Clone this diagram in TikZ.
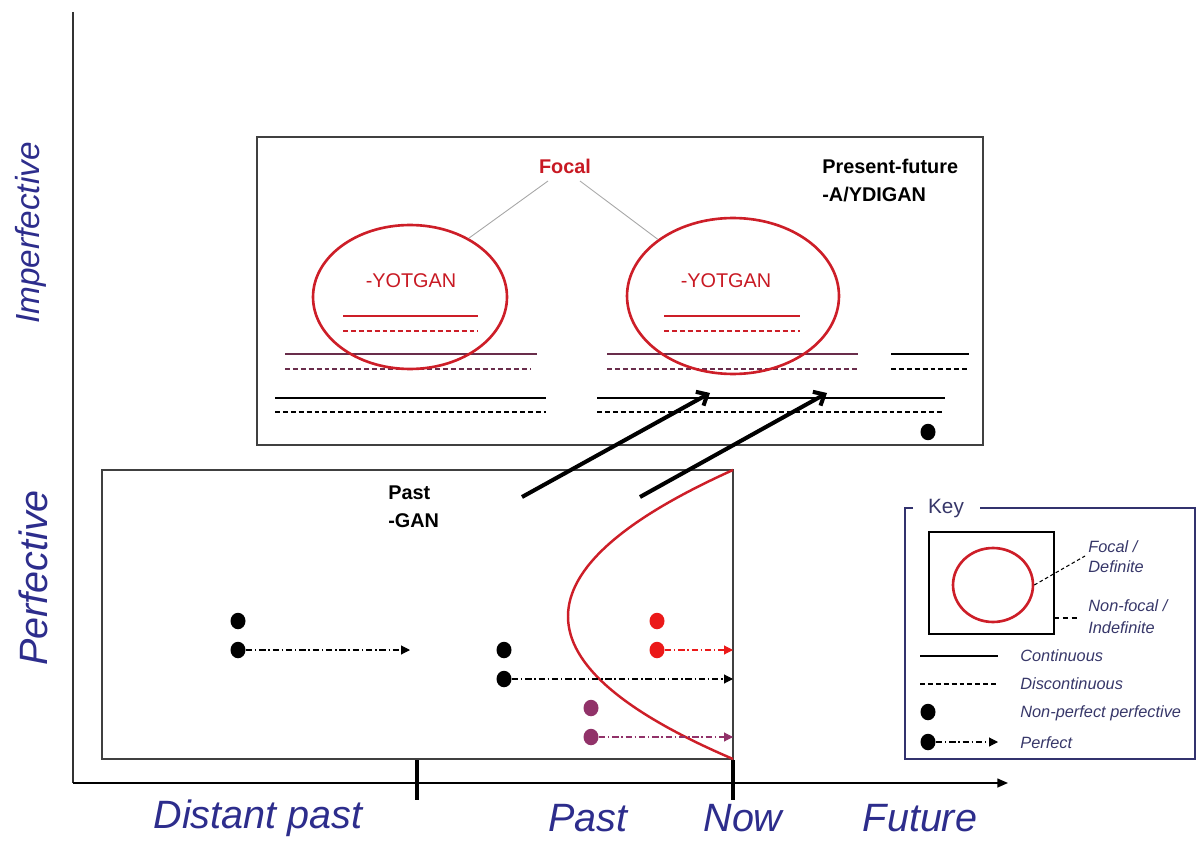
\documentclass[tikz,border=0pt]{standalone}
\usepackage{fontspec}
\setmainfont{Liberation Sans}
\usetikzlibrary{arrows.meta,shapes.geometric}

\definecolor{axisblue}{RGB}{45,45,140}
\definecolor{focalred}{RGB}{200,25,35}
\definecolor{ringred}{RGB}{205,30,40}
\definecolor{maroon}{RGB}{105,45,75}
\definecolor{dotred}{RGB}{235,25,25}
\definecolor{dotpurple}{RGB}{145,50,105}
\definecolor{keynavy}{RGB}{50,50,110}
\definecolor{keytext}{RGB}{55,55,105}

\tikzset{
  frame/.style={draw=black!75, line width=0.8pt},
  ring/.style={draw=ringred, line width=1.5pt, ellipse, inner sep=0pt},
  solidline/.style={line width=0.8pt},
  dashline/.style={line width=0.8pt, dash pattern=on 2.8pt off 1.7pt},
  dot/.style={ellipse, fill=#1, draw=none, minimum width=0.3cm, minimum height=0.33cm, inner sep=0pt},
  perfect/.style={draw=#1, line width=0.6pt, dash pattern=on 3.6pt off 1.6pt on 0.8pt off 1.6pt,
                  -{Triangle[length=5pt,width=5pt,fill=#1]}},
  shiftarrow/.style={line width=2.3pt, -{Straight Barb[length=5pt,width=9pt,line width=2.3pt]}},
  axislabel/.style={text=axisblue, font=\fontsize{22.5pt}{24pt}\selectfont\itshape, inner sep=0pt},
  boldlabel/.style={font=\fontsize{11.3pt}{13pt}\selectfont\bfseries, inner sep=0pt},
  keylabel/.style={text=keytext, font=\fontsize{9.3pt}{11pt}\selectfont\itshape, inner sep=0pt, anchor=west},
}

\begin{document}
\begin{tikzpicture}[x=0.02cm, y=-0.02cm]
\useasboundingbox (0,0) rectangle (1196,844);

% ---------- axes ----------
\coordinate (origin) at (73,783);
\coordinate (ytop) at (73,12);
\coordinate (xend) at (1008,783);
\draw[line width=0.9pt, black!80] (ytop) -- (origin);
\draw[line width=0.9pt, -{Triangle[length=6pt,width=5pt]}] (origin) -- (xend);
\draw[line width=2.2pt] (417,760) -- (417,800);
\draw[line width=2.2pt] (733,760) -- (733,800);

\node[axislabel] (tdist) at (258,818) {Distant past};
\node[axislabel] (tpast) at (588,818) {Past};
\node[axislabel] (tnow) at (743,818) {Now};
\node[axislabel] (tfut) at (920,818) {Future};
\node[axislabel, rotate=90, font=\fontsize{19pt}{21pt}\selectfont\itshape] (aimp) at (31,233) {Imperfective};
\node[axislabel, rotate=90] (aperf) at (33,578) {Perfective};

% ---------- imperfective box ----------
\draw[frame] (257,137) rectangle (983,445);

% maroon rows
\draw[solidline, maroon] (285,354) -- (537,354);
\draw[dashline, maroon] (285,369) -- (531,369);
\draw[solidline, maroon] (607,354) -- (858,354);
\draw[dashline, maroon] (607,369) -- (858,369);
% present-future rows
\draw[solidline] (891,354) -- (969,354);
\draw[dashline] (891,369) -- (969,369);
% black rows
\draw[solidline] (275,398) -- (546,398);
\draw[dashline] (275,412) -- (546,412);
\draw[solidline] (597,398) -- (945,398);
\draw[dashline] (597,412) -- (943,412);
% red rows inside the focal rings
\draw[line width=1pt, ringred] (343,316) -- (478,316);
\draw[dashline, ringred] (343,331) -- (478,331);
\draw[line width=1pt, ringred] (664,316) -- (800,316);
\draw[dashline, ringred] (664,331) -- (800,331);

% focal rings
\node[ring, minimum width=3.88cm, minimum height=2.88cm] (ell1) at (410,297) {};
\node[ring, minimum width=4.24cm, minimum height=3.12cm] (ell2) at (733,296) {};
\node[text=focalred, font=\fontsize{11.3pt}{13pt}\selectfont, inner sep=0pt] (yot1) at (411,281) {-YOTGAN};
\node[text=focalred, font=\fontsize{11.3pt}{13pt}\selectfont, inner sep=0pt] (yot2) at (726,281) {-YOTGAN};

\node[boldlabel, text=focalred] (focal) at (565,166) {Focal};
\coordinate (fl) at (548,181);
\coordinate (fr) at (580,181);
\draw[gray!70, line width=0.5pt] (fl) -- (ell1.45);
\draw[gray!70, line width=0.5pt] (fr) -- (ell2.143);

\node[boldlabel, anchor=west] (pf1) at (822,166) {Present-future};
\node[boldlabel, anchor=west] (pf2) at (822,195) {-A/YDIGAN};

\node[dot=black] (idot) at (928,432) {};

% ---------- perfective box ----------
\draw[frame] (102,470) rectangle (733,759);

\node[boldlabel, anchor=west] (past1) at (388,493) {Past};
\node[boldlabel, anchor=west] (past2) at (388,521) {-GAN};

% focal curve (a parabola opening towards now)
\coordinate (ctop) at (733,470);
\coordinate (cbot) at (733,759);
\draw[ringred, line width=1.4pt] (ctop) .. controls (513,569) and (513,665) .. (cbot);

% events
\node[dot=black] (b1) at (238,621) {};
\node[dot=black] (b2) at (238,650) {};
\coordinate (b2end) at (410,650);
\draw[perfect=black] (b2) -- (b2end);

\node[dot=black] (b3) at (504,650) {};
\node[dot=black] (b4) at (504,679) {};
\coordinate (b4end) at (733,679);
\draw[perfect=black] (b4) -- (b4end);

\node[dot=dotred] (r1) at (657,621) {};
\node[dot=dotred] (r2) at (657,650) {};
\coordinate (r2end) at (733,650);
\draw[perfect=dotred] (r2) -- (r2end);

\node[dot=dotpurple] (p1) at (591,708) {};
\node[dot=dotpurple] (p2) at (591,737) {};
\coordinate (p2end) at (733,737);
\draw[perfect=dotpurple] (p2) -- (p2end);

% shifts from perfective into imperfective
\coordinate (s1a) at (522,497);
\coordinate (s1b) at (710,393);
\coordinate (s2a) at (640,497);
\coordinate (s2b) at (827,393);
\draw[shiftarrow] (s1a) -- (s1b);
\draw[shiftarrow] (s2a) -- (s2b);

% ---------- key ----------
\node[text=keytext, font=\fontsize{11.8pt}{13pt}\selectfont, inner sep=0pt] (keyt) at (946,509) {Key};
\coordinate (kl) at (913,508);
\coordinate (kr) at (980,508);
\draw[keynavy, line width=0.8pt] (kl) -- (905,508) -- (905,759) -- (1195,759) -- (1195,508) -- (kr);
\draw[black, line width=0.8pt] (929,532) rectangle (1054,634);
\node[ring, minimum width=1.6cm, minimum height=1.48cm] (kring) at (993,585) {};

\coordinate (kfoc) at (1085,556);
\draw[line width=0.6pt, dash pattern=on 2pt off 1.5pt] (kring.east) -- (kfoc);
\coordinate (kbox) at (1054,618);
\coordinate (knf) at (1080,618);
\draw[line width=0.6pt, dash pattern=on 3pt off 2pt] (kbox) -- (knf);

\node[keylabel] (kf1) at (1088,547) {Focal /};
\node[keylabel] (kf2) at (1088,567) {Definite};
\node[keylabel] (kn1) at (1088,606) {Non-focal /};
\node[keylabel] (kn2) at (1088,628) {Indefinite};

\draw[line width=0.8pt] (920,656) -- (998,656);
\node[keylabel] (kc) at (1020,656) {Continuous};
\draw[line width=0.8pt, dash pattern=on 2.8pt off 1.7pt] (920,684) -- (998,684);
\node[keylabel] (kd) at (1020,684) {Discontinuous};
\node[dot=black] (kdot1) at (928,712) {};
\node[keylabel] (knp) at (1020,713) {Non-perfect perfective};
\node[dot=black] (kdot2) at (928,742) {};
\coordinate (kdot2end) at (998,742);
\draw[perfect=black] (kdot2) -- (kdot2end);
\node[keylabel] (kp) at (1020,743) {Perfect};
\end{tikzpicture}
\end{document}
